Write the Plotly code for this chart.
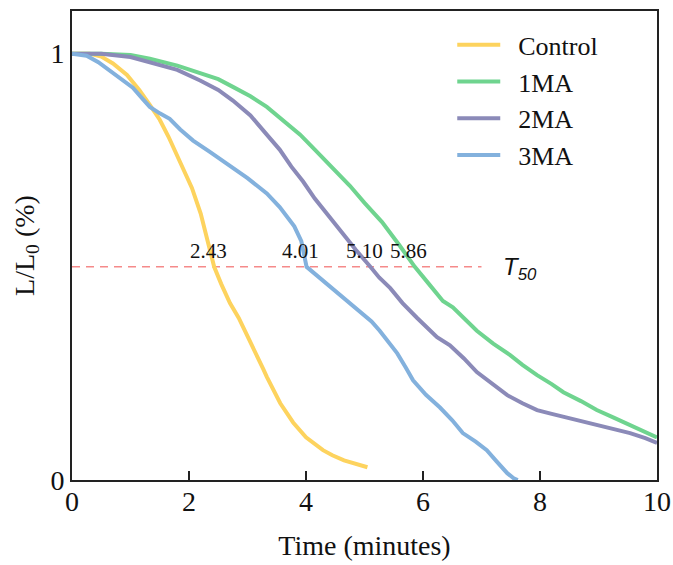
import plotly.graph_objects as go

# Relative luminance decay L/L0 over time for each sample
control_t = [0, 0.3, 0.5, 0.7, 0.94, 1.15, 1.33, 1.5, 1.65, 1.9, 2.05, 2.2, 2.43, 2.55, 2.7,
             2.85, 3.05, 3.27, 3.33, 3.56, 3.78, 4.0, 4.29, 4.45, 4.65, 4.85, 5.05]
control_v = [1.0, 1.0, 0.993, 0.977, 0.95, 0.915, 0.88, 0.845, 0.805, 0.73, 0.685, 0.625, 0.50,
             0.46, 0.415, 0.38, 0.325, 0.26, 0.242, 0.18, 0.135, 0.10, 0.07, 0.058, 0.046, 0.037, 0.03]

ma1_t = [0, 0.5, 1.0, 1.33, 1.8, 2.19, 2.5, 2.75, 3.05, 3.33, 3.6, 3.9, 4.15, 4.45, 4.75, 5.0,
         5.3, 5.6, 5.86, 6.1, 6.34, 6.51, 6.7, 6.92, 7.2, 7.49, 7.7, 7.95, 8.2, 8.4, 8.7, 8.97,
         9.25, 9.54, 9.8, 10.0]
ma1_v = [1.0, 1.0, 0.997, 0.988, 0.972, 0.955, 0.94, 0.922, 0.9, 0.875, 0.845, 0.81, 0.775,
         0.733, 0.69, 0.65, 0.605, 0.55, 0.50, 0.46, 0.42, 0.405, 0.38, 0.35, 0.32, 0.293, 0.27,
         0.246, 0.225, 0.206, 0.185, 0.164, 0.147, 0.129, 0.113, 0.10]

ma2_t = [0, 0.5, 1.0, 1.33, 1.8, 2.19, 2.5, 2.75, 3.05, 3.33, 3.55, 3.75, 3.95, 4.15, 4.35, 4.6,
         4.85, 5.1, 5.25, 5.44, 5.65, 5.9, 6.1, 6.24, 6.46, 6.7, 6.92, 7.2, 7.44, 7.7, 7.95, 8.2,
         8.4, 8.7, 8.97, 9.25, 9.54, 9.8, 10.0]
ma2_v = [1.0, 1.0, 0.992, 0.98, 0.962, 0.937, 0.915, 0.89, 0.855, 0.81, 0.775, 0.735, 0.7, 0.66,
         0.625, 0.585, 0.54, 0.50, 0.475, 0.45, 0.415, 0.38, 0.355, 0.335, 0.316, 0.285, 0.253,
         0.225, 0.199, 0.18, 0.164, 0.155, 0.148, 0.138, 0.129, 0.12, 0.11, 0.098, 0.087]

ma3_t = [0, 0.25, 0.45, 0.65, 0.85, 1.04, 1.2, 1.33, 1.5, 1.67, 1.85, 2.07, 2.35, 2.65, 3.0,
         3.33, 3.55, 3.8, 3.92, 4.01, 4.2, 4.41, 4.7, 4.97, 5.12, 5.26, 5.4, 5.56, 5.7, 5.83,
         6.05, 6.29, 6.5, 6.68, 6.9, 7.09, 7.25, 7.44, 7.55, 7.62]
ma3_v = [1.0, 0.995, 0.98, 0.96, 0.94, 0.92, 0.895, 0.875, 0.86, 0.847, 0.822, 0.796, 0.77,
         0.742, 0.708, 0.672, 0.64, 0.595, 0.56, 0.50, 0.478, 0.452, 0.42, 0.39, 0.372, 0.35,
         0.325, 0.297, 0.265, 0.234, 0.2, 0.17, 0.14, 0.11, 0.09, 0.07, 0.045, 0.016, 0.004, 0.0]

series_names = ["Control", "1MA", "2MA", "3MA"]
series_colors = ["#FDD35E", "#6FD48F", "#8B8AB8", "#83B1DD"]

# Half-life times (L/L0 = 0.5) and the T50 reference line
t50_values = [2.43, 4.01, 5.10, 5.86]
t50_level = 0.5
t50_line_end = 7.0

x_ticks = [0, 2, 4, 6, 8, 10]
y_ticks = [0, 1]

serif = "Liberation Serif, Times New Roman, serif"
label_pad = "\u00a0\u00a0"  # extra gap between legend swatch and its label

fig = go.Figure()

fig.add_trace(go.Scatter(
    x=[0, t50_line_end], y=[t50_level, t50_level], mode="lines",
    line=dict(color="#F58A8A", width=1.6, dash="8px,6px"),
    showlegend=False, hoverinfo="skip"))

for t, v, name, color in zip([control_t, ma1_t, ma2_t, ma3_t],
                             [control_v, ma1_v, ma2_v, ma3_v],
                             series_names, series_colors):
    fig.add_trace(go.Scatter(x=t, y=v, mode="lines", name=label_pad + name,
                             line=dict(color=color, width=4)))

for val in t50_values:
    fig.add_annotation(x=val, y=t50_level, text=f"{val:.2f}", showarrow=False,
                       xanchor="center", yanchor="bottom", xshift=-6, yshift=2,
                       font=dict(family=serif, size=21, color="#111"))

fig.add_annotation(x=t50_line_end + 0.33, y=t50_level, xanchor="left", yanchor="middle",
                   yshift=-2,
                   text="<i>T</i><sub><i>50</i></sub>", showarrow=False,
                   font=dict(family="Liberation Sans, Arial, sans-serif", size=24, color="#111"))

axis_common = dict(showline=True, mirror=True, linecolor="#222", linewidth=2,
                   showgrid=False, zeroline=False, automargin=False,
                   tickfont=dict(family=serif, size=28, color="#111"))

fig.update_layout(
    width=673, height=565,
    margin=dict(l=72, r=16, t=11, b=85),
    paper_bgcolor="white", plot_bgcolor="white",
    xaxis=dict(range=[0, 10], tickvals=x_ticks, ticks="inside", ticklen=9,
               tickwidth=2, tickcolor="#222", ticklabelstandoff=-5,
               title=dict(text="Time (minutes)", standoff=20,
                          font=dict(family=serif, size=28, color="#111")),
               **axis_common),
    yaxis=dict(range=[0, 1.1], tickvals=y_ticks, ticks="",
               title=dict(text="L/L<sub>0</sub> (%)", standoff=8,
                          font=dict(family=serif, size=28, color="#111")),
               **axis_common),
    legend=dict(x=0.65, y=0.978, xanchor="left", yanchor="top",
                bgcolor="rgba(0,0,0,0)", itemwidth=43,
                font=dict(family=serif, size=26, color="#111"),
                tracegroupgap=0),
)

fig.write_html("out.html")
